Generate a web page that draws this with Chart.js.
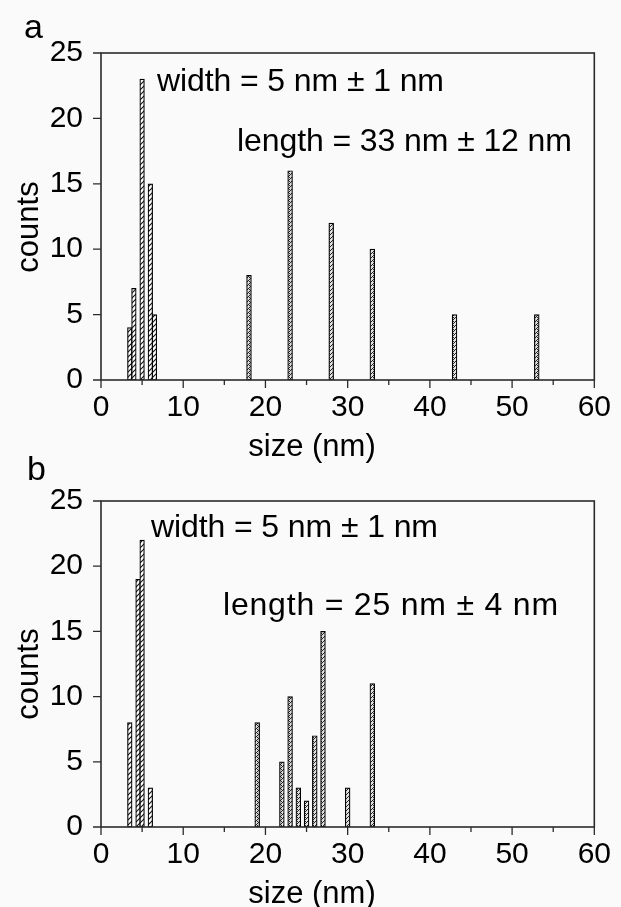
<!DOCTYPE html>
<html>
<head>
<meta charset="utf-8">
<script src="https://cdn.jsdelivr.net/npm/chart.js@4.4.1/dist/chart.umd.min.js"></script>
<style>
  html, body { margin: 0; padding: 0; background: #fafafa; }
  #page { position: relative; width: 621px; height: 907px; overflow: hidden; }
  canvas { position: absolute; left: 0; }
  #chartA { top: 0; }
  #chartB { top: 448px; }
</style>
</head>
<body>
<div id="page">
  <canvas id="chartA" width="621" height="470"></canvas>
  <canvas id="chartB" width="621" height="459"></canvas>
</div>
<script>
// panel a
const widthSizesA = [3.5, 4, 5, 6, 6.5];
const widthCountsA = [4, 7, 23, 15, 5];
const lengthSizesA = [18, 23, 28, 33, 43, 53];
const lengthCountsA = [8, 16, 12, 10, 5, 5];

// panel b
const widthSizesB = [3.5, 4.5, 5, 6];
const widthCountsB = [8, 19, 22, 3];
const lengthSizesB = [19, 22, 23, 24, 25, 26, 27, 30, 33];
const lengthCountsB = [8, 5, 10, 3, 2, 7, 15, 3, 11];

const xTicks = [0, 10, 20, 30, 40, 50, 60];
const yTicks = [0, 5, 10, 15, 20, 25];

const FONT = "'Liberation Sans', Arial, sans-serif";

function makeHatch(ctx) {
    const c = document.createElement('canvas');
    c.width = 5; c.height = 5;
    const g = c.getContext('2d');
    g.fillStyle = '#fff';
    g.fillRect(0, 0, 5, 5);
    g.strokeStyle = '#111';
    g.lineWidth = 1.1;
    g.beginPath();
    g.moveTo(0, 5); g.lineTo(5, 0);
    g.moveTo(-1, 1); g.lineTo(1, -1);
    g.moveTo(4, 6); g.lineTo(6, 4);
    g.stroke();
    return ctx.createPattern(c, 'repeat');
}

function makeCross(ctx) {
    const c = document.createElement('canvas');
    c.width = 4; c.height = 4;
    const g = c.getContext('2d');
    g.fillStyle = '#e0e0e0';
    g.fillRect(0, 0, 4, 4);
    g.fillStyle = '#222';
    g.fillRect(0, 0, 1, 1);
    g.fillRect(2, 2, 1, 1);
    g.fillRect(1, 1, 1, 1);
    g.fillRect(3, 1, 1, 1);
    g.fillRect(1, 3, 1, 1);
    return ctx.createPattern(c, 'repeat');
}

// draw text stretched to a given width with letter spacing
function fitText(ctx, text, x, y, w) {
    ctx.letterSpacing = '0px';
    const natural = ctx.measureText(text).width;
    const gap = (w - natural) / (text.length - 1);
    ctx.letterSpacing = gap.toFixed(2) + 'px';
    ctx.fillText(text, x, y);
    ctx.letterSpacing = '0px';
}

const decor = {
    id: 'decor',
    afterDraw(chart, args, opts) {
        const { ctx, chartArea: a, scales: { x, y } } = chart;
        ctx.save();
        ctx.strokeStyle = '#2b2b2b';
        ctx.lineWidth = 1.6;
        ctx.strokeRect(a.left, a.top, a.right - a.left, a.bottom - a.top);

        ctx.lineWidth = 1.3;
        ctx.beginPath();
        x.ticks.forEach(t => {
            const px = x.getPixelForValue(t.value);
            const len = t.value % 10 === 0 ? 8 : 5;
            ctx.moveTo(px, a.bottom);
            ctx.lineTo(px, a.bottom + len);
        });
        y.ticks.forEach(t => {
            const py = y.getPixelForValue(t.value);
            const len = t.value % 5 === 0 ? 8 : 5;
            ctx.moveTo(a.left, py);
            ctx.lineTo(a.left - len, py);
        });
        ctx.stroke();

        ctx.fillStyle = '#000';
        ctx.textBaseline = 'alphabetic';
        ctx.textAlign = 'left';
        ctx.font = '34px ' + FONT;
        ctx.fillText(opts.letter, opts.letterPos[0], opts.letterPos[1]);

        ctx.font = '32px ' + FONT;
        fitText(ctx, opts.widthText, opts.widthPos[0], opts.widthPos[1], opts.widthPos[2]);
        fitText(ctx, opts.lengthText, opts.lengthPos[0], opts.lengthPos[1], opts.lengthPos[2]);

        ctx.textAlign = 'center';
        ctx.font = '31px ' + FONT;
        ctx.fillText('size (nm)', opts.xTitlePos[0], opts.xTitlePos[1]);

        ctx.translate(opts.yTitlePos[0], opts.yTitlePos[1]);
        ctx.rotate(-Math.PI / 2);
        ctx.fillText('counts', 0, 0);
        ctx.restore();
    }
};

function makeChart(id, wSizes, wCounts, lSizes, lCounts, xAxisHeight, decorOpts) {
    const canvas = document.getElementById(id);
    const ctx = canvas.getContext('2d');
    return new Chart(ctx, {
        type: 'bar',
        data: {
            datasets: [{
                label: 'width',
                data: wSizes.map((s, i) => ({ x: s, y: wCounts[i] })),
                backgroundColor: makeHatch(ctx),
                borderColor: '#000',
                borderWidth: 1.2,
                borderSkipped: false,
                barThickness: 4.6,
                grouped: false
            }, {
                label: 'length',
                data: lSizes.map((s, i) => ({ x: s, y: lCounts[i] })),
                backgroundColor: makeCross(ctx),
                borderColor: '#000',
                borderWidth: 1.2,
                borderSkipped: false,
                barThickness: 4.8,
                grouped: false
            }]
        },
        options: {
            responsive: false,
            animation: false,
            layout: { padding: { top: 53, right: 26, left: 0, bottom: 0 } },
            plugins: {
                legend: { display: false },
                tooltip: { enabled: false },
                decor: decorOpts
            },
            scales: {
                x: {
                    type: 'linear',
                    min: 0,
                    max: 60,
                    offset: false,
                    grid: { display: false, drawTicks: false },
                    border: { display: false },
                    afterFit: scale => { scale.height = xAxisHeight; },
                    ticks: {
                        stepSize: 5,
                        autoSkip: false,
                        maxRotation: 0,
                        padding: 10,
                        color: '#000',
                        font: { family: FONT, size: 30 },
                        callback: v => xTicks.includes(v) ? String(v) : ''
                    }
                },
                y: {
                    min: 0,
                    max: 25,
                    grid: { display: false, drawTicks: false },
                    border: { display: false },
                    afterFit: scale => { scale.width = 101; },
                    ticks: {
                        stepSize: 2.5,
                        padding: 18,
                        color: '#000',
                        font: { family: FONT, size: 30 },
                        callback: v => yTicks.includes(v) ? String(v) : ''
                    }
                }
            }
        },
        plugins: [decor]
    });
}

makeChart('chartA', widthSizesA, widthCountsA, lengthSizesA, lengthCountsA, 90, {
    letter: 'a',
    letterPos: [24, 38],
    widthText: 'width = 5 nm \u00b1 1 nm',
    widthPos: [157, 91, 287],
    lengthText: 'length = 33 nm \u00b1 12 nm',
    lengthPos: [237, 151, 335],
    xTitlePos: [312, 456],
    yTitlePos: [38, 227]
});

makeChart('chartB', widthSizesB, widthCountsB, lengthSizesB, lengthCountsB, 80, {
    letter: 'b',
    letterPos: [27, 32],
    widthText: 'width = 5 nm \u00b1 1 nm',
    widthPos: [151, 89, 287],
    lengthText: 'length = 25 nm \u00b1 4 nm',
    lengthPos: [223, 167, 335],
    xTitlePos: [312, 455],
    yTitlePos: [38, 226]
});
</script>
</body>
</html>
